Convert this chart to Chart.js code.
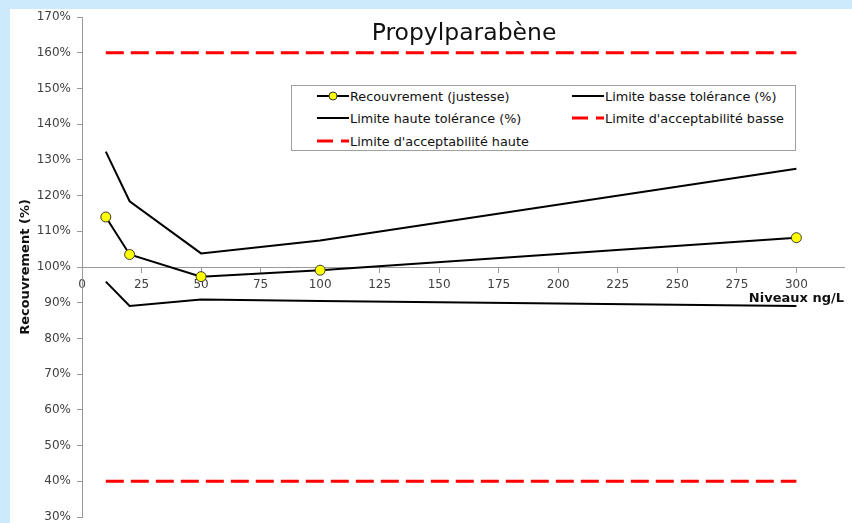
<!DOCTYPE html>
<html>
<head>
<meta charset="utf-8">
<script src="https://cdn.jsdelivr.net/npm/chart.js@4"></script>
<style>
    body { margin: 0; background: #cdeafd; width: 852px; height: 523px; overflow: hidden; font-family: 'DejaVu Sans', Verdana, sans-serif; }
    #wrap { position: absolute; left: 10px; top: 9px; width: 842px; height: 514px; background: #fff; }
    #title { position: absolute; left: 314px; top: 19px; width: 300px; text-align: center; font-size: 23.5px; line-height: 26px; color: #111; }
    #legend { position: absolute; left: 291px; top: 85px; width: 503px; height: 64px; border: 1px solid #a0a0a0; background: #fff; }
    .item { position: absolute; height: 16px; display: flex; align-items: center; font-size: 12.8px; color: #111; white-space: nowrap; }
    .item svg { margin-right: 1px; }
</style>
</head>
<body>
<div id="wrap"><canvas id="chart" width="842" height="514"></canvas></div>
<div id="title">Propylparabène</div>
<div id="legend"></div>
<script>
// Propylparabène - recouvrement vs niveaux

const levels = [10, 20, 50, 100, 300];
const recouvrement = [114.0, 103.5, 97.3, 99.1, 108.2];
const limBasseTol = [95.9, 89.1, 90.9, 90.5, 89.1];
const limHauteTol = [132.3, 118.4, 103.8, 107.4, 127.5];
const limAccBasse = [40, 40, 40, 40, 40];
const limAccHaute = [160, 160, 160, 160, 160];

const seriesLabels = [
    'Recouvrement (justesse)',
    'Limite basse tolérance (%)',
    'Limite haute tolérance (%)',
    "Limite d'acceptabilité basse",
    "Limite d'acceptabilité haute"
];

const xTicks = [0, 25, 50, 75, 100, 125, 150, 175, 200, 225, 250, 275, 300];
const yTicks = [30, 40, 50, 60, 70, 80, 90, 100, 110, 120, 130, 140, 150, 160, 170];

const FONT = 'DejaVu Sans';

function toPoints(values) {
    return levels.map((x, i) => ({ x: x, y: values[i] }));
}

const blackLine = { borderColor: '#000', borderWidth: 2, pointRadius: 0, tension: 0, fill: false };
const redLine = { borderColor: '#ff0000', borderWidth: 3, borderDash: [18, 7], pointRadius: 0, tension: 0, fill: false };

const datasets = [
    {
        label: seriesLabels[0], data: toPoints(recouvrement),
        borderColor: '#000', borderWidth: 2, tension: 0, fill: false,
        pointRadius: 5, pointBackgroundColor: '#ffff00', pointBorderColor: '#3a3a3a', pointBorderWidth: 1
    },
    Object.assign({ label: seriesLabels[1], data: toPoints(limBasseTol) }, blackLine),
    Object.assign({ label: seriesLabels[2], data: toPoints(limHauteTol) }, blackLine),
    Object.assign({ label: seriesLabels[3], data: toPoints(limAccBasse) }, redLine),
    Object.assign({ label: seriesLabels[4], data: toPoints(limAccHaute) }, redLine)
];

const ctx = document.getElementById('chart').getContext('2d');

const chart = new Chart(ctx, {
    type: 'line',
    data: { datasets: datasets },
    options: {
        responsive: false,
        animation: false,
        layout: { padding: { top: 8, right: 8, bottom: 5, left: 0 } },
        plugins: { legend: { display: false }, title: { display: false }, tooltip: { enabled: false } },
        scales: {
            x: {
                type: 'linear', min: 0, max: 320,
                position: { y: 100 },
                afterBuildTicks: s => { s.ticks = xTicks.map(v => ({ value: v })); },
                ticks: { font: { family: FONT, size: 12 }, color: '#404040', padding: 6, maxRotation: 0, autoSkip: false },
                grid: { drawOnChartArea: false, drawTicks: true, tickLength: 5, color: '#999' },
                border: { color: '#999', width: 1 },
                title: { display: true, text: 'Niveaux ng/L', align: 'end', color: '#111', font: { family: FONT, size: 13, weight: 'bold' }, padding: { top: -8, bottom: 0 } }
            },
            y: {
                min: 30, max: 170,
                afterBuildTicks: s => { s.ticks = yTicks.map(v => ({ value: v })); },
                afterFit: s => { s.width = 72; s.paddingTop = 0; s.paddingBottom = 0; },
                ticks: { callback: v => v + '%', font: { family: FONT, size: 12 }, color: '#404040', padding: 6, autoSkip: false },
                grid: { drawOnChartArea: false, drawTicks: true, tickLength: 5, color: '#999' },
                border: { color: '#999', width: 1 },
                title: { display: true, text: 'Recouvrement (%)', color: '#111', font: { family: FONT, size: 13, weight: 'bold' }, padding: { top: 8, bottom: 0 } }
            }
        }
    }
});

// legend laid out in two columns like the original
const legendPos = [
    { left: 25, top: 2 }, { left: 280, top: 2 },
    { left: 25, top: 24 }, { left: 280, top: 24 },
    { left: 25, top: 47 }
];

function sampleSvg(ds) {
    let svg = '<svg width="32" height="12">';
    if (ds.borderDash) {
        svg += '<line x1="0" y1="6" x2="16" y2="6" stroke="' + ds.borderColor + '" stroke-width="3"/>';
        svg += '<line x1="24" y1="6" x2="32" y2="6" stroke="' + ds.borderColor + '" stroke-width="3"/>';
    } else {
        svg += '<line x1="0" y1="6" x2="32" y2="6" stroke="' + ds.borderColor + '" stroke-width="2"/>';
    }
    if (ds.pointRadius) {
        svg += '<circle cx="16" cy="6" r="4" fill="' + ds.pointBackgroundColor + '" stroke="' + ds.pointBorderColor + '" stroke-width="1"/>';
    }
    return svg + '</svg>';
}

const legendEl = document.getElementById('legend');
chart.data.datasets.forEach((ds, i) => {
    const div = document.createElement('div');
    div.className = 'item';
    div.style.left = legendPos[i].left + 'px';
    div.style.top = legendPos[i].top + 'px';
    div.innerHTML = sampleSvg(ds);
    const span = document.createElement('span');
    span.textContent = ds.label;
    div.appendChild(span);
    legendEl.appendChild(div);
});
</script>
</body>
</html>
